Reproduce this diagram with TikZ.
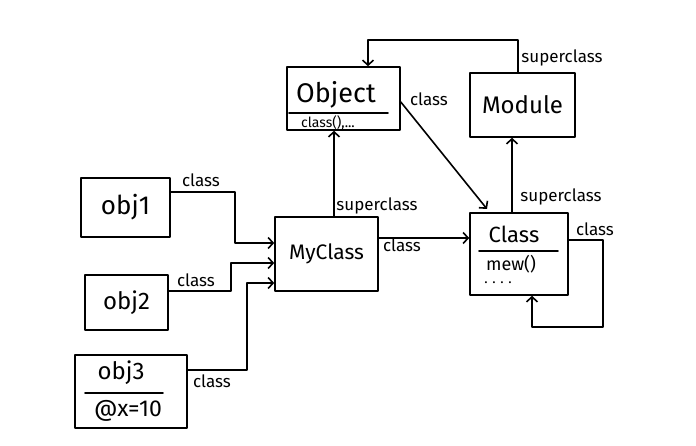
\documentclass[tikz,border=0pt]{standalone}
\usepackage{fontspec}
\setmainfont{Fira Sans}
\usetikzlibrary{arrows.meta}
\begin{document}
\begin{tikzpicture}[x=1pt,y=-1pt,
  line width=1.6pt, line join=round, line cap=round,
  box/.style={draw, rectangle, inner sep=0pt},
  big/.style={font=\fontsize{24}{24}\selectfont, inner sep=0pt},
  lbl/.style={font=\fontsize{17}{17}\selectfont, inner sep=0pt},
  link/.style={-{Straight Barb[length=5pt,width=11pt]}}
]
\useasboundingbox (0,0) rectangle (696,446);

% classes
\node[box, minimum width=113pt, minimum height=63pt] (object) at (343.5,98.5) {};
\node[big, font=\fontsize{27}{27}\selectfont] (objectname) at (336,95) {Object};
\draw (289,113) -- (388,113);
\node[font=\fontsize{14}{14}\selectfont, inner sep=0pt] (objectops) at (328,122.5) {class(),...};

\node[box, big, minimum width=105pt, minimum height=64pt] (module) at (522.5,105) {Module};

\node[box, minimum width=103pt, minimum height=74pt, font=\fontsize{21}{21}\selectfont] (myclass) at (326.5,254) {MyClass};

\node[box, minimum width=98pt, minimum height=82pt] (class) at (519,254) {};
\node[big, font=\fontsize{22}{22}\selectfont] (classname) at (514,234) {Class};
\draw (479,251) -- (558,251);
\node[font=\fontsize{18}{18}\selectfont, inner sep=0pt] (classops) at (511,264) {mew()};
\node[font=\fontsize{14}{14}\selectfont, inner sep=0pt] (classmore) at (498,283) {.\,\,.\,\,.\,\,.};

% objects
\node[box, big, font=\fontsize{26}{26}\selectfont, minimum width=89pt, minimum height=59pt] (obj1) at (125.5,207.5) {obj1};
\node[box, big, minimum width=83pt, minimum height=55pt] (obj2) at (126.5,302.5) {obj2};
\node[box, minimum width=112pt, minimum height=73pt] (obj3) at (131,391.5) {};
\node[big] (obj3name) at (121,373) {obj3};
\draw (85,393) -- (163,393);
\node[big, font=\fontsize{23}{23}\selectfont] (obj3ivar) at (128,411) {@x=10};

% class links of the objects
\coordinate (b1) at (235,192);
\coordinate (b2) at (231,291);
\coordinate (b3) at (247,370);
\draw[link] (obj1.east |- b1) -| (b1 |- 0,243) -- (myclass.west |- 0,243);
\draw[link] (obj2.east |- b2) -| (b2 |- 0,263) -- (myclass.west |- 0,263);
\draw[link] (obj3.east |- b3) -| (b3 |- 0,283) -- (myclass.west |- 0,283);
\node[lbl] (l1) at (201,180) {class};
\node[lbl] (l2) at (196,280) {class};
\node[lbl] (l3) at (212,381) {class};

% MyClass links
\draw[link] (myclass.north -| 334,0) -- (object.south -| 334,0);
\node[lbl] (l4) at (377,206) {superclass};
\draw[link] (myclass.east |- 0,238) -- (class.west |- 0,238);
\node[lbl] (l5) at (402,245) {class};

% Object class link
\draw[link] (object.east |- 0,102) -- (487,209);
\node[lbl] (l6) at (429,99) {class};

% Class links
\draw[link] (class.north -| 512,0) -- (module.south -| 512,0);
\node[lbl] (l7) at (561,197) {superclass};
\coordinate (loop) at (603,327);
\draw[link] (class.east |- 0,240) -| (loop) -| (class.south -| 532,0);
\node[lbl] (l8) at (595,229) {class};

% Module superclass link
\coordinate (top) at (368,40);
\draw[link] (module.north -| 518,0) |- (top) -- (object.north -| top);
\node[lbl] (l9) at (562,58) {superclass};
\end{tikzpicture}
\end{document}
